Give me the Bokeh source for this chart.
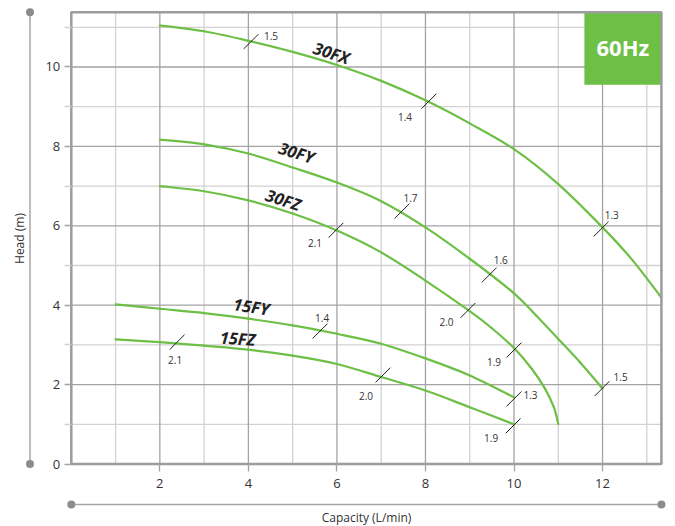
import numpy as np
from bokeh.plotting import figure
from bokeh.models import Range1d, LinearAxis, FixedTicker, ColumnDataSource
from bokeh.core.properties import value
from bokeh.embed import file_html
from bokeh.resources import INLINE

# ---------------- data ----------------
fx_x = [2, 3, 4, 5, 6, 7, 8, 9, 10, 11, 12, 12.68, 13.33]
fx_y = [11.05, 10.9, 10.66, 10.38, 10.05, 9.65, 9.16, 8.58, 7.93, 7.05, 5.96, 5.13, 4.19]

fy_x = [2, 3, 4, 5, 6, 7, 8, 9, 10, 10.5, 11, 11.5, 12]
fy_y = [8.17, 8.05, 7.82, 7.47, 7.09, 6.62, 5.96, 5.17, 4.3, 3.74, 3.15, 2.55, 1.9]

fz_x = [2, 3, 4, 5, 6, 7, 8, 9, 9.5, 10, 10.4, 10.7, 10.9, 11.0]
fz_y = [7.0, 6.87, 6.64, 6.31, 5.88, 5.33, 4.62, 3.85, 3.42, 2.92, 2.4, 1.9, 1.43, 1.01]

sy_x = [1, 2, 3, 4, 5, 6, 7, 8, 9, 10]
sy_y = [4.02, 3.91, 3.80, 3.66, 3.49, 3.28, 3.03, 2.66, 2.23, 1.68]

sz_x = [1, 2, 3, 4, 5, 6, 7, 8, 9, 10]
sz_y = [3.14, 3.07, 2.98, 2.88, 2.73, 2.52, 2.19, 1.85, 1.43, 1.0]

curve_names = ["30FX", "30FY", "30FZ", "15FY", "15FZ"]
name_x = [5.88, 5.09, 4.79, 4.07, 3.76]
name_y = [10.36, 7.85, 6.66, 3.97, 3.17]
name_angle = [-0.31, -0.30, -0.32, -0.15, -0.07]

mark_x = [4.06, 8.08, 11.97, 7.47, 9.44, 11.99, 5.98, 8.96, 10.0, 5.62, 10.0, 2.39, 7.04, 9.98]
mark_y = [10.64, 9.14, 5.92, 6.37, 4.76, 1.90, 5.89, 3.87, 2.87, 3.35, 1.64, 3.07, 2.24, 0.96]
mark_text = ["1.5", "1.4", "1.3", "1.7", "1.6", "1.5", "2.1", "2.0", "1.9", "1.4", "1.3", "2.1", "2.0", "1.9"]
# label placement (pixels relative to the mark)
mark_dx = [20, -24, 10.5, 8.5, 11.5, 18.5, -21, -21.5, -20, 2, 16.5, -2, -17, -22]
mark_dy = [-6, 15.5, -13.5, -13, -15.5, -11.5, 13, 11.5, 11.5, -13, -3.5, 18, 20.5, 12]

x_ticks = [2, 4, 6, 8, 10, 12]
x_minor = [1, 3, 5, 7, 9, 11, 13]
y_ticks = [0, 2, 4, 6, 8, 10]
y_minor = [1, 3, 5, 7, 9, 11]

badge_text = "60Hz"

# ---------------- layout constants ----------------
W, H = 675, 526
X0, X1 = -1.5993, 13.648
Y0, Y1 = -1.574, 11.675
FR, FT = 13.33, 11.38          # plotting frame extent
DEC_X, DEC_Y = -0.933, -1.02   # decorative axis lines
BADGE_L, BADGE_B = 11.59, 9.55

GREEN = "#6dbf46"
MAJ = "#a3a3a3"
MIN = "#d2d2d2"
FRAME_C = "#9c9c9c"
TXT = "#333333"
FONT = value("Open Sans")


def smooth_segments(xs, ys):
    """Cubic Bezier pieces (Catmull-Rom) passing through every read point."""
    P = np.column_stack([xs, ys]).astype(float)
    n = len(P)
    Q = np.vstack([P[0], P, P[-1]])
    seg = dict(x0=[], y0=[], x1=[], y1=[], cx0=[], cy0=[], cx1=[], cy1=[])
    for i in range(n - 1):
        p0, p1, p2, p3 = Q[i], Q[i + 1], Q[i + 2], Q[i + 3]
        c1 = p1 + (p2 - p0) / 6.0
        c2 = p2 - (p3 - p1) / 6.0
        seg["x0"].append(p1[0]); seg["y0"].append(p1[1])
        seg["x1"].append(p2[0]); seg["y1"].append(p2[1])
        seg["cx0"].append(c1[0]); seg["cy0"].append(c1[1])
        seg["cx1"].append(c2[0]); seg["cy1"].append(c2[1])
    return ColumnDataSource(seg)


p = figure(width=W, height=H, output_backend="svg", toolbar_location=None,
           x_range=Range1d(X0, X1), y_range=Range1d(Y0, Y1),
           x_axis_location=None, y_axis_location=None, min_border=0,
           outline_line_color=None, background_fill_color="white",
           border_fill_color="white")
p.grid.visible = False

# grid lines
p.segment(x0=x_minor, y0=0, x1=x_minor, y1=FT, line_color=MIN, line_width=1.3)
p.segment(x0=0, y0=y_minor, x1=FR, y1=y_minor, line_color=MIN, line_width=1.3)
p.segment(x0=x_ticks, y0=0, x1=x_ticks, y1=FT, line_color=MAJ, line_width=1.3)
p.segment(x0=0, y0=y_ticks[1:], x1=FR, y1=y_ticks[1:], line_color=MAJ, line_width=1.3)

# badge
p.quad(left=BADGE_L, right=FR, bottom=BADGE_B, top=FT, fill_color=GREEN, line_color=None)
p.text(x=[(BADGE_L + FR) / 2], y=[(BADGE_B + FT) / 2], text=[badge_text],
       text_font=value("Open Sans"), text_font_style="bold", text_font_size="22px",
       text_color="white", text_align="center", text_baseline="middle", y_offset=-2)

# curves (smooth through the read points)
for xs, ys in [(fx_x, fx_y), (fy_x, fy_y), (fz_x, fz_y), (sy_x, sy_y), (sz_x, sz_y)]:
    p.bezier(x0="x0", y0="y0", x1="x1", y1="y1", cx0="cx0", cy0="cy0",
             cx1="cx1", cy1="cy1", source=smooth_segments(xs, ys),
             line_color=GREEN, line_width=2.2, line_cap="round")

# frame border
p.quad(left=0, right=FR, bottom=0, top=FT, fill_color=None, line_color=FRAME_C, line_width=2.5)

# decorative axis lines with end dots
p.segment(x0=DEC_X, y0=0, x1=DEC_X, y1=FT, line_color="#a6a6a6", line_width=1.5)
p.segment(x0=0, y0=DEC_Y, x1=FR, y1=DEC_Y, line_color="#a6a6a6", line_width=1.5)
p.scatter(x=[DEC_X, DEC_X, 0, FR], y=[0, FT, DEC_Y, DEC_Y], size=8,
          fill_color="#8c8c8c", line_color=None)

# point marks and labels
ms = ColumnDataSource(dict(x=mark_x, y=mark_y, t=mark_text, dx=mark_dx, dy=mark_dy))
p.scatter(x="x", y="y", source=ms, marker="dash", size=21, angle=np.pi / 4,
          line_color="#222222", line_width=1)
p.text(x="x", y="y", text="t", source=ms, x_offset="dx", y_offset="dy",
       text_font=FONT, text_font_size="10px", text_color=TXT,
       text_align="center", text_baseline="middle")

# curve names
ns = ColumnDataSource(dict(x=name_x, y=name_y, t=curve_names, a=name_angle))
p.text(x="x", y="y", text="t", angle="a", source=ns, text_font=FONT,
       text_font_style="bold italic", text_font_size="16.5px", text_color="#222222",
       text_align="center", text_baseline="middle")

# axes (fixed at the frame edges)
yax = LinearAxis(fixed_location=0, bounds=(0, FT),
                 ticker=FixedTicker(ticks=y_ticks, minor_ticks=y_minor),
                 axis_line_color=None, major_tick_out=7, major_tick_in=0,
                 minor_tick_out=7, minor_tick_in=0,
                 major_tick_line_color=MAJ, minor_tick_line_color=MIN,
                 major_tick_line_width=1.3, minor_tick_line_width=1.3,
                 major_label_standoff=4, major_label_text_font="Open Sans",
                 major_label_text_font_size="13px", major_label_text_color=TXT,
                 axis_label="Head (m)", axis_label_standoff=15,
                 axis_label_text_font="Open Sans", axis_label_text_font_style="normal",
                 axis_label_text_font_size="12px", axis_label_text_color=TXT)
xax = LinearAxis(fixed_location=0, bounds=(0, FR),
                 ticker=FixedTicker(ticks=x_ticks, minor_ticks=[]),
                 axis_line_color=None, major_tick_out=7, major_tick_in=0,
                 minor_tick_out=0, minor_tick_in=0,
                 major_tick_line_color=MAJ, major_tick_line_width=1.3,
                 major_label_standoff=8, major_label_text_font="Open Sans",
                 major_label_text_font_size="13px", major_label_text_color=TXT,
                 axis_label="Capacity (L/min)", axis_label_standoff=17,
                 axis_label_text_font="Open Sans", axis_label_text_font_style="normal",
                 axis_label_text_font_size="12px", axis_label_text_color=TXT)
p.add_layout(yax, "left")
p.add_layout(xax, "below")

open("out.html", "w").write(file_html(p, INLINE))
